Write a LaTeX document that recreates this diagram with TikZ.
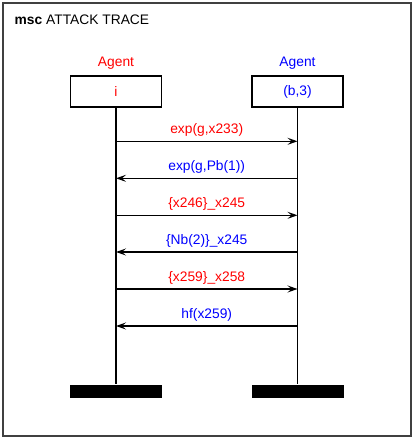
\documentclass[tikz,border=0pt]{standalone}
\usepackage{fontspec}
\setmainfont{Liberation Sans}
\usetikzlibrary{arrows.meta}
\definecolor{agentred}{RGB}{255,0,0}
\definecolor{agentblue}{RGB}{0,0,255}
\begin{document}
\begin{tikzpicture}[x=1pt, y=-1pt,
    every node/.style={font=\fontsize{13.8}{16}\selectfont},
    inst/.style={draw, line width=1.3pt, minimum width=91pt, minimum height=31pt, inner sep=0pt},
    endbar/.style={fill=black, minimum width=92pt, minimum height=13pt, inner sep=0pt},
    msg/.style={line width=1.3pt, -{Stealth[length=10pt, width=7pt, inset=4pt]}}]
    \useasboundingbox (0,0) rectangle (414,439);

    % Frame and title
    \draw [line width=2pt, black!75] (3,3) rectangle (411,436);
    \node [anchor=base west, inner sep=0pt] (title) at (14.5,24) {\textbf{msc} ATTACK TRACE};

    % Instances
    \node [inst, text=agentred] (i) at (116,91.5) {i};
    \node [inst, text=agentblue] (b) at (297.5,91.5) {(b,3)};
    \node [anchor=base, text=agentred] (agi) at ([yshift=8.5pt]i.north) {Agent};
    \node [anchor=base, text=agentblue] (agb) at ([yshift=8.5pt]b.north) {Agent};

    % End bars
    \node [endbar] (ibar) at (116,391) {};
    \node [endbar] (bbar) at (297.5,391) {};

    % Lifelines
    \draw [line width=1.3pt] (i.south) -- (ibar.north);
    \draw [line width=1.3pt] (b.south) -- (bbar.north);

    % Messages
    \foreach \k/\y/\src/\dst/\col/\txt in {
        1/141.3/i/b/agentred/{exp(g,x233)},
        2/178.3/b/i/agentblue/{exp(g,Pb(1))},
        3/215.3/i/b/agentred/{\{x246\}\_x245},
        4/252/b/i/agentblue/{\{Nb(2)\}\_x245},
        5/289/i/b/agentred/{\{x259\}\_x258},
        6/326/b/i/agentblue/{hf(x259)}} {
        \coordinate (m\k) at (0,\y);
        \draw [msg] (\src |- m\k) -- (\dst |- m\k)
            node [midway, anchor=base, yshift=7.5pt, text=\col] {\txt};
    }
\end{tikzpicture}
\end{document}
